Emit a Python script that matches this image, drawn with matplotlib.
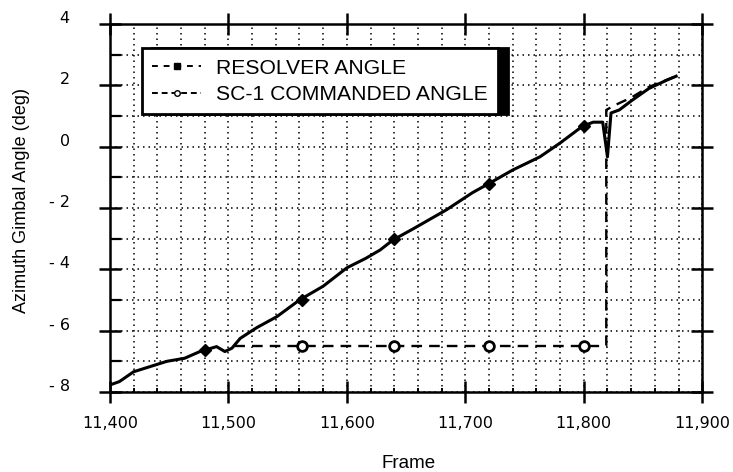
import numpy as np
import matplotlib
matplotlib.use("Agg")
import matplotlib.pyplot as plt
import matplotlib.transforms as mtransforms
from matplotlib.lines import Line2D
from matplotlib.ticker import MultipleLocator, FuncFormatter

# resolver angle trace
res_frame = [11400, 11408, 11420, 11434, 11448, 11463, 11476, 11490, 11497, 11503,
             11510, 11524, 11541, 11560, 11580, 11600, 11616, 11628, 11639, 11655,
             11684, 11706, 11720, 11740, 11763, 11780, 11799, 11808, 11816, 11820,
             11823, 11830, 11841, 11855, 11870, 11878]
res_angle = [-7.77, -7.66, -7.34, -7.17, -7.0, -6.9, -6.68, -6.52, -6.68, -6.57,
             -6.25, -5.9, -5.54, -5.0, -4.55, -3.95, -3.64, -3.37, -3.04, -2.7,
             -2.06, -1.5, -1.2, -0.76, -0.33, 0.12, 0.67, 0.8, 0.8, -0.33,
             1.1, 1.2, 1.52, 1.9, 2.17, 2.3]
res_mark_frame = [11480, 11562, 11640, 11720, 11800]
res_mark_angle = [-6.62, -5.0, -3.02, -1.2, 0.67]

# SC-1 commanded angle
cmd_frame = [11505, 11819, 11819, 11826, 11840, 11855, 11878]
cmd_angle = [-6.5, -6.5, 1.2, 1.35, 1.6, 1.95, 2.3]
cmd_mark_frame = [11562, 11640, 11720, 11800]
cmd_mark_angle = [-6.5, -6.5, -6.5, -6.5]

labels = ["RESOLVER ANGLE", "SC-1 COMMANDED ANGLE"]

plt.rcParams["font.family"] = ["Liberation Sans", "DejaVu Sans"]

fig = plt.figure(figsize=(7.33, 4.72), dpi=100)
ax = fig.add_axes([0.150, 0.1695, 0.808, 0.7795])

ax.plot(res_frame, res_angle, color="black", lw=2.2, solid_joinstyle="round", zorder=4)
ax.plot(res_mark_frame, res_mark_angle, "D", color="black", ms=6.5, zorder=5)
ax.plot(cmd_frame, cmd_angle, color="black", lw=1.7, linestyle=(0, (4.5, 3.0)), zorder=3)
ax.plot(cmd_mark_frame, cmd_mark_angle, "o", mfc="white", mec="black", mew=2, ms=7, zorder=5)

ax.set_xlim(11400, 11900)
ax.set_ylim(-8, 4)
ax.xaxis.set_major_locator(MultipleLocator(100))
ax.xaxis.set_minor_locator(MultipleLocator(20))
ax.yaxis.set_major_locator(MultipleLocator(2))
ax.yaxis.set_minor_locator(MultipleLocator(1))
ax.xaxis.set_major_formatter(FuncFormatter(lambda v, p: f"{int(v):,}"))
ax.yaxis.set_major_formatter(FuncFormatter(lambda v, p: f"- {abs(int(v))}" if v < 0 else f"{int(v)}"))

ax.grid(which="both", color="black", linestyle=(0, (1, 2.6)), linewidth=1.1)
ax.set_axisbelow(True)

for s in ax.spines.values():
    s.set_linewidth(1.8)

ax.tick_params(which="major", direction="inout", length=16, width=1.8,
               top=True, right=True, labelsize=11.5)
ax.tick_params(axis="x", which="major", pad=9)
ax.tick_params(axis="y", which="major", pad=21)
ax.tick_params(axis="x", which="minor", direction="in", length=3, width=1.4, top=False)
ax.tick_params(axis="y", which="minor", direction="in", length=8, width=1.6, right=False)
for t in ax.get_xticklabels() + ax.get_yticklabels():
    t.set_fontfamily("DejaVu Sans")

off = mtransforms.ScaledTranslation(0, 5 / 72, fig.dpi_scale_trans)
for t in ax.get_yticklabels():
    t.set_transform(t.get_transform() + off)

ax.set_xlabel("Frame", fontsize=13.5)
ax.xaxis.set_label_coords(0.505, -0.172)
ax.set_ylabel("Azimuth Gimbal Angle (deg)", fontsize=13)
ax.yaxis.set_label_coords(-0.135, 0.52)

handles = [
    Line2D([], [], color="black", lw=1.4, linestyle=(0, (3, 3)), marker="s", ms=4),
    Line2D([], [], color="black", lw=1.4, linestyle=(0, (3, 2)), marker="o", ms=4, mfc="white"),
]
leg = ax.legend(handles, labels, loc="upper left", bbox_to_anchor=(0.054, 0.935),
                borderaxespad=0, fontsize=15.2, frameon=True, fancybox=False,
                handlelength=2.3, handletextpad=0.7, borderpad=0.5, labelspacing=0.35,
                shadow={"ox": 7, "oy": 0, "color": "black", "alpha": 1})
leg.get_frame().set_edgecolor("black")
leg.get_frame().set_linewidth(2)
leg.get_frame().set_alpha(1)

plt.savefig("out.png", dpi=100)
